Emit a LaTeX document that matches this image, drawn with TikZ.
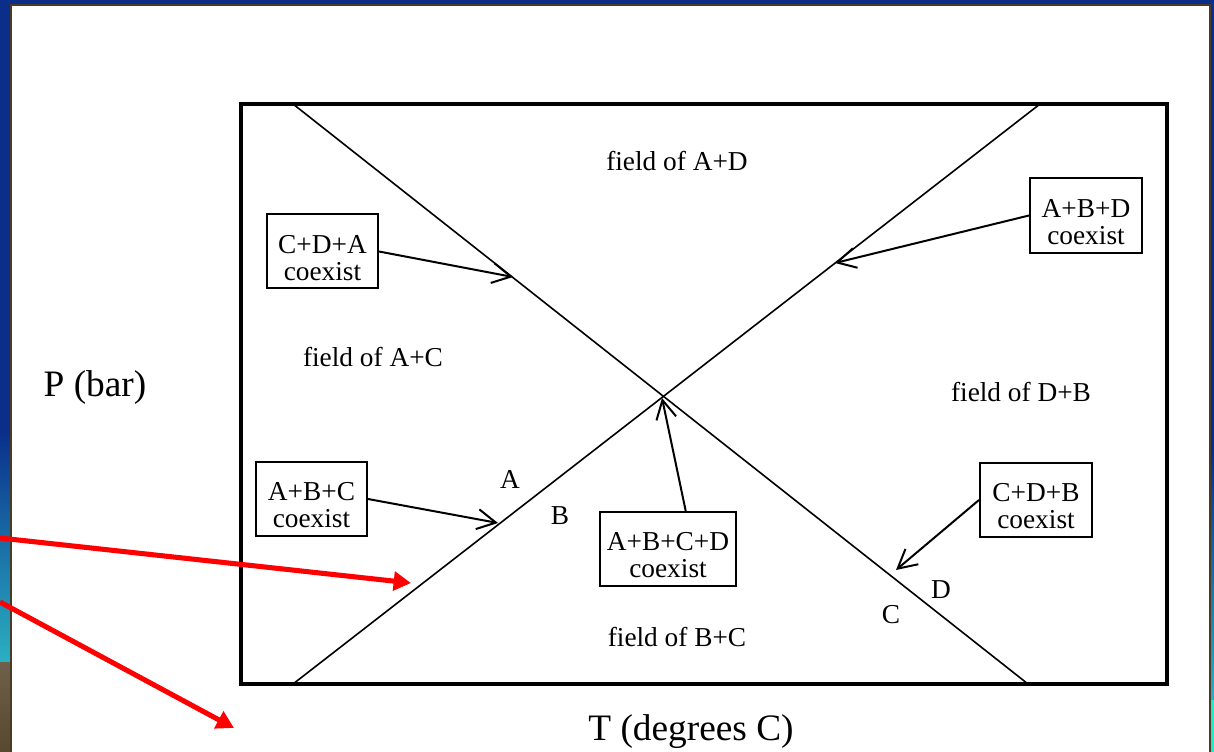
\documentclass[tikz,border=0pt]{standalone}
\usepackage{fontspec}
\setmainfont{Liberation Serif}
\usetikzlibrary{arrows.meta}
\definecolor{navy}{HTML}{0A2E8A}
\definecolor{tealb}{HTML}{2BB0C2}
\definecolor{greenb}{HTML}{22E8C4}
\definecolor{brownb}{HTML}{4A3B22}
\definecolor{earth}{HTML}{6E604A}
\definecolor{earthdk}{HTML}{57492F}
\newcommand{\boxstrut}{\rule{0pt}{23pt}}
\begin{document}
\begin{tikzpicture}[x=0.75pt,y=-0.75pt,
  coexbox/.style={draw=black,line width=1.5pt,fill=white,align=center,inner sep=0pt,
    font=\rmfamily\fontsize{20.5}{20}\selectfont},
  fieldlbl/.style={font=\rmfamily\fontsize{20.5}{22}\selectfont,inner sep=0pt},
  axislbl/.style={font=\rmfamily\fontsize{28}{30}\selectfont,inner sep=0pt},
  pointer/.style={line width=1.5pt,-{Straight Barb[length=14pt,width=15pt,line width=1.5pt]}},
  redarrow/.style={red,line width=3.8pt,-{Triangle[length=13pt,width=14pt]}},
  phaseline/.style={line width=1.2pt},
]
\useasboundingbox (0,0) rectangle (1214,752);
% slide background
\fill[white] (0,0) rectangle (1214,752);
\fill[navy] (0,0) rectangle (10,430);
\shade[top color=navy,bottom color=tealb] (0,430) rectangle (10,662);
\shade[top color=earth,bottom color=earthdk] (0,662) rectangle (10,752);
\fill[navy] (0,0) rectangle (1214,5);
\fill[navy] (1211,0) rectangle (1214,450);
\shade[top color=navy,bottom color=tealb] (1211,450) rectangle (1214,700);
\fill[greenb] (1211,700) rectangle (1214,752);
\draw[brownb,line width=1.5pt] (10.5,752) -- (10.5,5.5) -- (1209.5,5.5) -- (1209.5,752);

% frame corners and phase line ends
\coordinate (fTL) at (241,104);
\coordinate (fBR) at (1167,684);
\coordinate (l1a) at (293,104);
\coordinate (l1b) at (1028,684);
\coordinate (l2a) at (293,684);
\coordinate (l2b) at (1040,104);
\draw[line width=2.3pt] (fTL) rectangle (fBR);
\draw[phaseline] (l1a) -- (l1b);
\draw[phaseline] (l2a) -- (l2b);

% field labels
\node[fieldlbl] (fAD) at (677,161) {field of A+D};
\node[fieldlbl] (fAC) at (373,357) {field of A+C};
\node[fieldlbl] (fDB) at (1021,392) {field of D+B};
\node[fieldlbl] (fBC) at (677,637) {field of B+C};

% reaction labels
\node[fieldlbl] (lA) at (510,479) {A};
\node[fieldlbl] (lB) at (560,516) {B};
\node[fieldlbl] (lC) at (891,615) {C};
\node[fieldlbl] (lD) at (941,590) {D};

% boxes
\node[coexbox,minimum width=83.25pt,minimum height=55.5pt] (cda) at (322.5,251.5) {\boxstrut C+D+A\\coexist};
\node[coexbox,minimum width=84pt,minimum height=56pt] (abd) at (1086,215.5) {\boxstrut A+B+D\\coexist};
\node[coexbox,minimum width=83.25pt,minimum height=55.5pt] (abc) at (311.5,499) {\boxstrut A+B+C\\coexist};
\node[coexbox,minimum width=102pt,minimum height=55.5pt] (abcd) at (668,549) {\boxstrut A+B+C+D\\coexist};
\node[coexbox,minimum width=84pt,minimum height=55.5pt] (cdb) at (1036,500) {\boxstrut C+D+B\\coexist};

% pointer tips
\coordinate (tCDA) at (513,277);
\coordinate (tABD) at (835,263);
\coordinate (tABC) at (498,523);
\coordinate (tABCD) at (662,398);
\coordinate (tCDB) at (896,570);
\draw[pointer] (cda.east) -- (tCDA);
\draw[pointer] (abd.west) -- (tABD);
\draw[pointer] (abc.east) -- (tABC);
\draw[pointer] (abcd.65) -- (tABCD);
\draw[pointer] (cdb.west) -- (tCDB);

% axis labels
\node[axislbl] (py) at (95,388) {P (bar)};
\node[axislbl] (tx) at (691,732) {T (degrees C)};

% red arrows
\coordinate (r1s) at (0,538);
\coordinate (r1e) at (411,583);
\coordinate (r2s) at (0,602);
\coordinate (r2e) at (234,728);
\draw[redarrow] (r1s) -- (r1e);
\draw[redarrow] (r2s) -- (r2e);
\end{tikzpicture}
\end{document}
